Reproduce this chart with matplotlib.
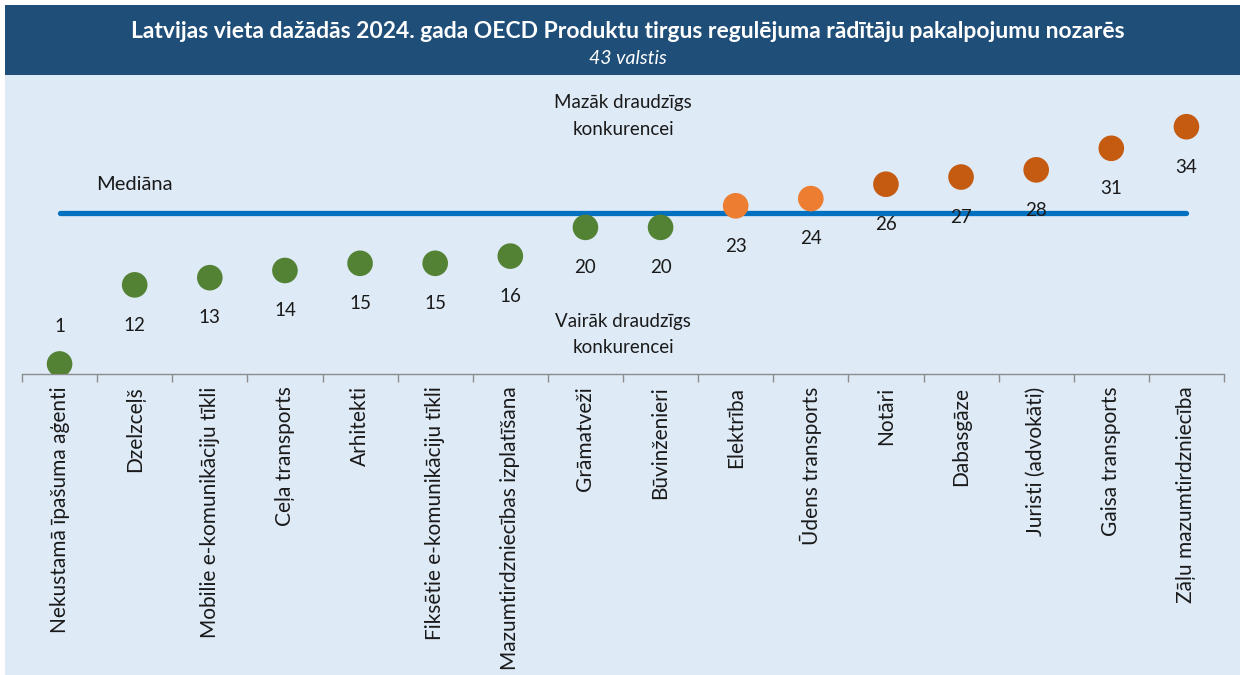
import matplotlib
matplotlib.use('Agg')
import matplotlib.pyplot as plt
from matplotlib.patches import Rectangle

plt.rcParams['font.family'] = ['Lato', 'DejaVu Sans']

# ---------------------------------------------------------------

TITLE = 'Latvijas vieta dažādās 2024. gada OECD Produktu tirgus regulējuma rādītāju pakalpojumu nozarēs'
SUBTITLE = '43 valstis'

sectors = [
    'Nekustamā īpašuma aģenti', 'Dzelzceļš', 'Mobilie e-komunikāciju tīkli',
    'Ceļa transports', 'Arhitekti', 'Fiksētie e-komunikāciju tīkli',
    'Mazumtirdzniecības izplatīšana', 'Grāmatveži', 'Būvinženieri', 'Elektrība',
    'Ūdens transports', 'Notāri', 'Dabasgāze', 'Juristi (advokāti)',
    'Gaisa transports', 'Zāļu mazumtirdzniecība',
]
ranks = [1, 12, 13, 14, 15, 15, 16, 20, 20, 23, 24, 26, 27, 28, 31, 34]
median_rank = 22

GREEN = '#548235'
LIGHT_ORANGE = '#ED7D31'
DARK_ORANGE = '#C55A11'
BG = '#DEEAF6'
BAND = '#1F4E79'
TEXT = '#1a1a1a'


def rank_color(r):
    if r <= median_rank:
        return GREEN
    if r <= 24:
        return LIGHT_ORANGE
    return DARK_ORANGE


W, H = 1242, 675
fig = plt.figure(figsize=(W / 100, H / 100), dpi=100)
fig.patch.set_facecolor('white')

# light panel and title band, kept behind the axes
fig.patches.append(Rectangle((5 / W, 0), 1235 / W, 670 / H, transform=fig.transFigure,
                             facecolor=BG, edgecolor='none', zorder=-2))
fig.patches.append(Rectangle((5 / W, (H - 75) / H), 1235 / W, 70 / H, transform=fig.transFigure,
                             facecolor=BAND, edgecolor='none', zorder=-1))
fig.text(628 / W, 1 - 31 / H, TITLE, color='white', fontsize=16.5, fontweight='bold',
         ha='center', va='center')
fig.text(628 / W, 1 - 58 / H, SUBTITLE, color='white', fontsize=14, style='italic',
         ha='center', va='center')

ax = fig.add_axes([22 / W, (H - 374) / H, 1202 / W, 294 / H])
ax.set_facecolor('none')
ax.set_zorder(1)
x = list(range(len(sectors)))

ax.plot([x[0], x[-1]], [median_rank, median_rank], color='#0070C0', lw=3.8,
        solid_capstyle='round', zorder=2)
ax.scatter(x, ranks, s=340, c=[rank_color(r) for r in ranks], edgecolors='none', zorder=3)

for xi, r in zip(x, ranks):
    dy = 27 if r == 1 else -29
    ax.annotate(str(r), (xi, r), xytext=(0, dy), textcoords='offset points',
                ha='center', va='center', fontsize=13.5, color=TEXT)

ax.text(1.0, median_rank + 3.9, 'Mediāna', fontsize=14.5, ha='center', va='center', color=TEXT)
ax.text(7.5, 35.5, 'Mazāk draudzīgs\nkonkurencei', fontsize=13.5, ha='center', va='center',
        linespacing=1.7, color=TEXT)
ax.text(7.5, 5.1, 'Vairāk draudzīgs\nkonkurencei', fontsize=13.5, ha='center', va='center',
        linespacing=1.7, color=TEXT)

ax.set_xlim(-0.5, len(sectors) - 0.5)
ax.set_ylim(-0.4, 40.5)
ax.set_yticks([])
ax.set_xticks(x)
ax.set_xticklabels(sectors, rotation=90, fontsize=15, color=TEXT)
ax.tick_params(axis='x', length=0, pad=9)
ax.set_xticks([i - 0.5 for i in range(len(sectors) + 1)], minor=True)
ax.tick_params(axis='x', which='minor', length=6, color='#8c8c8c', width=1)
for side in ['top', 'left', 'right']:
    ax.spines[side].set_visible(False)
ax.spines['bottom'].set_color('#8c8c8c')
ax.spines['bottom'].set_linewidth(1)

fig.savefig('out.png', dpi=100, facecolor=fig.get_facecolor())
